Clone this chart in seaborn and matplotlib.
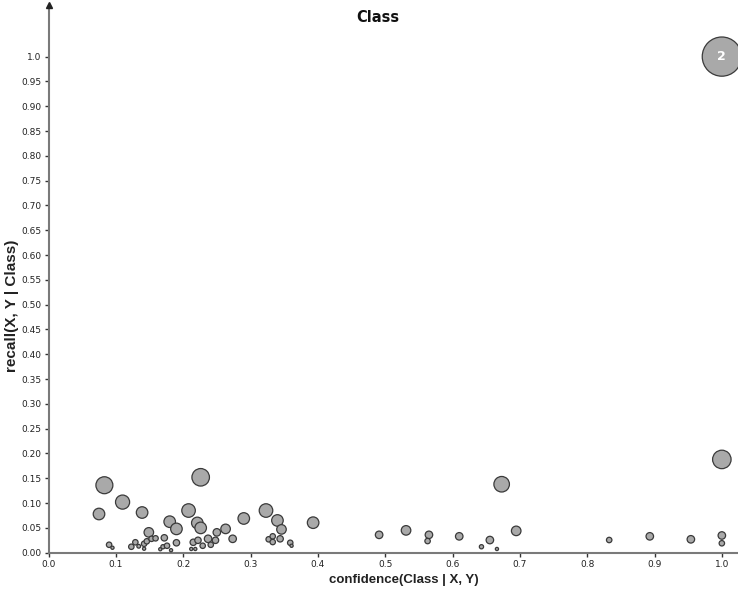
import matplotlib
matplotlib.use("Agg")
import matplotlib.pyplot as plt
import seaborn as sns
import pandas as pd

confidence = [0.083, 0.075, 0.110, 0.139, 0.149, 0.090, 0.095, 0.123, 0.129, 0.134,
              0.142, 0.142, 0.146, 0.153, 0.159, 0.172, 0.166, 0.170, 0.176, 0.182,
              0.180, 0.190, 0.190, 0.208, 0.226, 0.221, 0.226, 0.215, 0.222, 0.212,
              0.218, 0.229, 0.237, 0.241, 0.248, 0.250, 0.263, 0.2735, 0.290, 0.323,
              0.340, 0.346, 0.327, 0.333, 0.333, 0.344, 0.359, 0.361, 0.393, 0.491,
              0.531, 0.565, 0.563, 0.610, 0.643, 0.6555, 0.666, 0.673, 0.6946, 0.8327,
              0.893, 0.954, 1.0, 1.0, 1.0, 1.0]
recall = [0.136, 0.078, 0.102, 0.081, 0.041, 0.016, 0.010, 0.012, 0.021, 0.013,
          0.018, 0.008, 0.023, 0.028, 0.029, 0.030, 0.007, 0.012, 0.014, 0.005,
          0.0625, 0.048, 0.020, 0.085, 0.152, 0.060, 0.050, 0.021, 0.025, 0.0075,
          0.0075, 0.014, 0.028, 0.016, 0.025, 0.041, 0.048, 0.028, 0.069, 0.085,
          0.065, 0.047, 0.027, 0.033, 0.0215, 0.028, 0.020, 0.014, 0.0605, 0.036,
          0.045, 0.036, 0.0235, 0.033, 0.012, 0.0255, 0.0075, 0.138, 0.044, 0.0256,
          0.033, 0.027, 0.0347, 0.019, 0.188, 1.0]
support = [76, 36, 53, 36, 25, 9, 4, 9, 9, 5,
           9, 4, 9, 9, 9, 12, 4, 6, 9, 4,
           36, 36, 12, 49, 81, 36, 36, 12, 12, 4,
           4, 9, 16, 9, 12, 16, 25, 16, 36, 49,
           36, 25, 9, 9, 9, 12, 9, 4, 36, 16,
           25, 16, 9, 16, 6, 16, 4, 64, 25, 9,
           16, 16, 16, 9, 90, 400]

x_ticks = [0.0, 0.1, 0.2, 0.3, 0.4, 0.5, 0.6, 0.7, 0.8, 0.9, 1.0]
x_tick_labels = ["0.0", "0.1", "0.2", "0.3", "0.4", "0.5", "0.6", "0.7", "0.8", "0.9", "1.0"]
y_ticks = [0.0, 0.05, 0.10, 0.15, 0.20, 0.25, 0.30, 0.35, 0.40, 0.45, 0.50,
           0.55, 0.60, 0.65, 0.70, 0.75, 0.80, 0.85, 0.90, 0.95, 1.0]
y_tick_labels = ["0.00", "0.05", "0.10", "0.15", "0.20", "0.25", "0.30", "0.35", "0.40",
                 "0.45", "0.50", "0.55", "0.60", "0.65", "0.70", "0.75", "0.80", "0.85",
                 "0.90", "0.95", "1.0"]
bubble_label = "2"

df = pd.DataFrame({"confidence": confidence, "recall": recall, "support": support})

sns.set_style("white")
plt.rcParams["font.family"] = ["DejaVu Sans"]

fig = plt.figure(figsize=(7.38, 5.92), dpi=100)
ax = fig.add_axes([48.5 / 738, 39.3 / 592, 1 - 48.5 / 738, (552.7 - 5) / 592])

def area(r):
    return (1.44 * r) ** 2

sns.scatterplot(data=df, x="confidence", y="recall", size="support",
                sizes=(area(1.6), area(19.6)), size_norm=(4, 400),
                color="#a9a9a9", edgecolor="#3a3a3a", linewidth=0.9,
                legend=False, ax=ax, clip_on=False, zorder=3)

ax.text(1.0, 1.0, bubble_label, color="white", fontsize=9, fontweight="bold",
        ha="center", va="center", zorder=4)

ax.set_xlim(0, 1.024)
ax.set_ylim(0, 1.104)
ax.set_xticks(x_ticks)
ax.set_xticklabels(x_tick_labels)
ax.set_yticks(y_ticks)
ax.set_yticklabels(y_tick_labels)
ax.tick_params(axis="both", labelsize=6.5, length=3, width=1, color="#333333",
               labelcolor="#222222", direction="out", pad=2)
ax.tick_params(axis="x", bottom=True)
ax.tick_params(axis="y", left=True)

for s in ["top", "right"]:
    ax.spines[s].set_visible(False)
for s in ["left", "bottom"]:
    ax.spines[s].set_color("#7a7a7a")
    ax.spines[s].set_linewidth(1.5)

ax.plot([0], [1.104], marker="^", color="#222222", markersize=5,
        clip_on=False, zorder=5)

ax.set_xlabel("")
ax.set_ylabel("")
fig.text(404 / 738, 1 - 580 / 592, "confidence(Class | X, Y)", ha="center", va="center",
         fontsize=9.5, fontweight="bold", color="#222222", family="Liberation Sans")
fig.text(12 / 738, 1 - 306 / 592, "recall(X, Y | Class)", ha="center", va="center",
         fontsize=11, fontweight="bold", rotation=90, color="#222222",
         family="Liberation Sans")
fig.text(378 / 738, 1 - 18 / 592, "Class", ha="center", va="center",
         fontsize=10.5, fontweight="bold", color="#111111")

fig.savefig("out.png", dpi=100)
